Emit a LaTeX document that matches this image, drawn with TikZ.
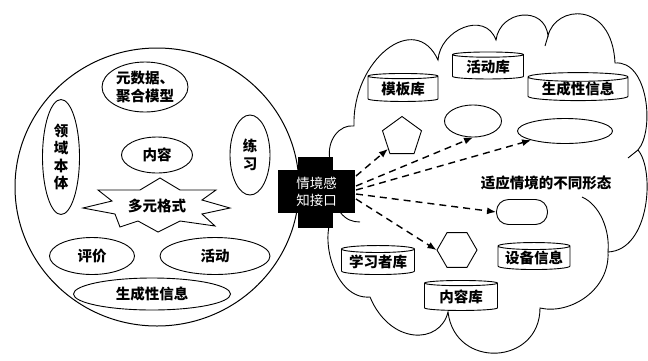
\documentclass[tikz,border=0pt]{standalone}
\usepackage{fontspec}
\setmainfont{Noto Sans CJK SC}
\usetikzlibrary{shapes.geometric,arrows.meta}
\begin{document}
\begin{tikzpicture}[x=1pt,y=-1pt,line width=0.9pt,
  lbl/.style={font=\bfseries\fontsize{14.5}{17.5}\selectfont,align=center},
  ell/.style={draw,ellipse,inner sep=0pt,fill=white,lbl},
  cyl/.style={draw,fill=white,cylinder,shape border rotate=90,aspect=0.12,inner sep=0pt,lbl},
  shp/.style={draw,fill=white,inner sep=0pt},
  arr/.style={dash pattern=on 7pt off 5pt,line width=1.4pt,-{Latex[length=9pt,width=7pt]}}]
\useasboundingbox (0,0) rectangle (648,360);
\fill[white] (0,0) rectangle (648,360);
% cloud
\draw (330,160) .. controls (326,140) and (340,124) .. (354,126)
  .. controls (352,60) and (415,10) .. (438,60)
  .. controls (440,30) and (485,10) .. (496,40)
  .. controls (500,10) and (545,5) .. (548,36)
  .. controls (555,5) and (612,0) .. (615,63)
  .. controls (648,60) and (655,130) .. (638,150)
  .. controls (655,170) and (650,250) .. (608,252)
  .. controls (610,290) and (570,315) .. (540,308)
  .. controls (540,365) and (455,370) .. (448,312)
  .. controls (440,345) and (390,345) .. (370,297)
  .. controls (335,300) and (320,240) .. (332,218) -- cycle;
\draw (582,197) .. controls (600,205) and (610,230) .. (608,252);
\draw (340,212) .. controls (346,220) and (353,222) .. (360,222);
\draw (628,158) -- (638,150);
\draw (545,46) -- (548,36);
% big circle
\node[draw,ellipse,minimum width=284pt,minimum height=278pt,inner sep=0pt,line width=1pt] (bigc) at (157,187) {};
\node[ell,minimum width=86pt,minimum height=50pt] (meta) at (145,87) {元数据、\\聚合模型};
\node[ell,minimum width=37pt,minimum height=115pt] (onto) at (61,157) {领\\域\\本\\体};
\node[ell,minimum width=71pt,minimum height=36pt] (cont) at (157,155) {内容};
\node[ell,minimum width=40pt,minimum height=80pt] (prac) at (250,155) {练\\习};
\draw[fill=white] (83,208) -- (112,201) -- (98,190) -- (140,190) -- (160,178) -- (180,190)
  -- (216,190) -- (202,200) -- (230,208) -- (202,214) -- (215,226) -- (180,221)
  -- (158,232) -- (138,221) -- (120,227) -- (115,214) -- cycle;
\node[lbl] (fmt) at (157,206) {多元格式};
\node[ell,minimum width=85pt,minimum height=37pt] (eval) at (92,256) {评价};
\node[ell,minimum width=110pt,minimum height=37pt] (act) at (215,256) {活动};
\node[ell,minimum width=157pt,minimum height=32pt] (gen) at (152,294) {生成性信息};
% context interface
\fill (298,157) rectangle (333,228);
\node[fill=black,text=white,minimum width=77pt,minimum height=43pt,inner sep=0pt,
  align=center,font=\fontsize{13.5}{17}\selectfont] (ctx) at (316.5,191.5) {情境感\\知接口};
% cloud items
\node[cyl,minimum width=70pt,minimum height=28pt] (tpl) at (403,89) {模板库};
\node[cyl,minimum width=71pt,minimum height=27pt] (actl) at (488,67) {活动库};
\node[cyl,minimum width=100pt,minimum height=28pt] (genl) at (578,89) {生成性信息};
\node[cyl,minimum width=73pt,minimum height=29pt] (lrn) at (378,262) {学习者库};
\node[cyl,minimum width=72pt,minimum height=27pt] (dev) at (534,258) {设备信息};
\node[cyl,minimum width=73pt,minimum height=30pt] (cl) at (461,297) {内容库};
\node[shp,regular polygon,regular polygon sides=5,minimum size=41pt] (pent) at (402,137) {};
\node[shp,ellipse,minimum width=57pt,minimum height=32pt] (e1) at (473,121) {};
\node[shp,ellipse,minimum width=95pt,minimum height=25pt] (e2) at (565,131) {};
\node[shp,rectangle,rounded corners=12pt,minimum width=51pt,minimum height=25pt] (stad) at (522,212) {};
\node[shp,regular polygon,regular polygon sides=6,minimum size=40pt] (hex) at (457,250) {};
\node[lbl] (adapt) at (546,183) {适应情境的不同形态};
% arrows
\coordinate (s1) at (356,176);
\coordinate (s2) at (356,186);
\coordinate (s3) at (356,190);
\coordinate (s4) at (356,194);
\coordinate (s5) at (356,199);
\draw[arr] (s1) -- (pent);
\draw[arr] (s2) -- (e1.south);
\draw[arr] (s3) -- (e2.south west);
\draw[arr] (s4) -- (stad.west);
\draw[arr] (s5) -- (hex.west);
\end{tikzpicture}
\end{document}
